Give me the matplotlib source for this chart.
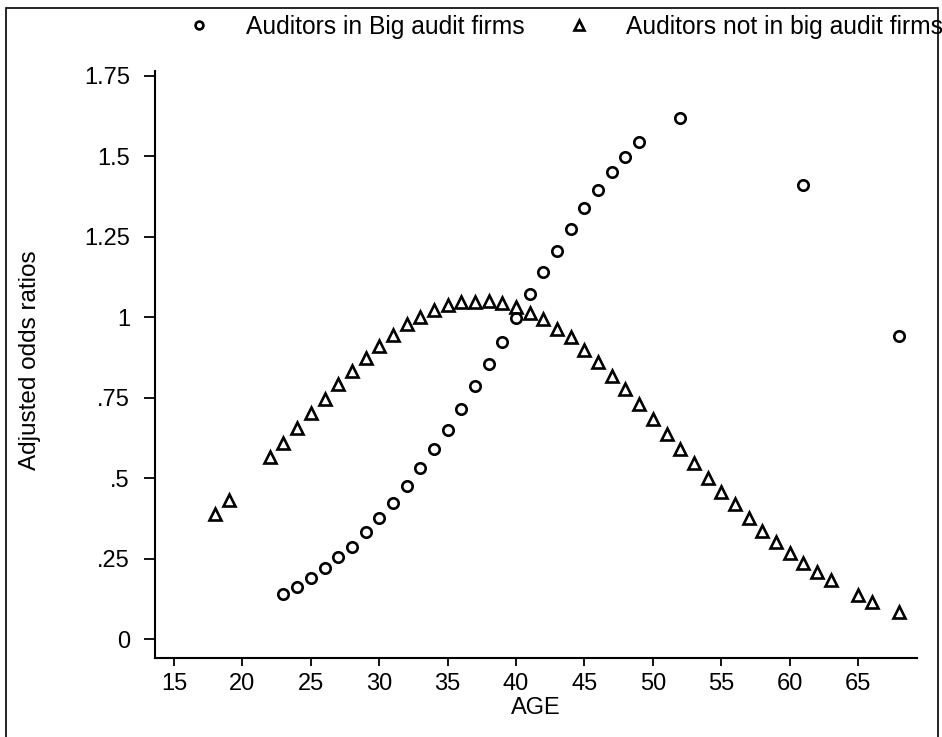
import matplotlib
matplotlib.use("Agg")
import matplotlib.pyplot as plt
from matplotlib.patches import Rectangle

plt.rcParams['font.family'] = ['Liberation Sans', 'DejaVu Sans']

# Auditors in Big audit firms (circles)
big_age = [23, 24, 25, 26, 27, 28, 29, 30, 31, 32, 33, 34, 35, 36, 37, 38,
           39, 40, 41, 42, 43, 44, 45, 46, 47, 48, 49, 52, 61, 68]
big_or = [0.141, 0.163, 0.190, 0.220, 0.254, 0.287, 0.331, 0.375, 0.422, 0.475,
          0.530, 0.589, 0.649, 0.715, 0.785, 0.853, 0.924, 0.997, 1.071, 1.141,
          1.206, 1.275, 1.338, 1.396, 1.452, 1.498, 1.543, 1.619, 1.411, 0.941]

# Auditors not in big audit firms (triangles)
nbig_age = [18, 19, 22, 23, 24, 25, 26, 27, 28, 29, 30, 31, 32, 33, 34, 35, 36,
            37, 38, 39, 40, 41, 42, 43, 44, 45, 46, 47, 48, 49, 50, 51, 52, 53,
            54, 55, 56, 57, 58, 59, 60, 61, 62, 63, 65, 66, 68]
nbig_or = [0.388, 0.432, 0.564, 0.610, 0.657, 0.703, 0.746, 0.793, 0.834, 0.874,
           0.909, 0.945, 0.978, 1.001, 1.022, 1.037, 1.048, 1.047, 1.050, 1.045,
           1.032, 1.014, 0.993, 0.964, 0.937, 0.899, 0.861, 0.818, 0.777, 0.730,
           0.683, 0.638, 0.590, 0.548, 0.501, 0.458, 0.418, 0.375, 0.336, 0.302,
           0.266, 0.235, 0.209, 0.183, 0.138, 0.116, 0.085]

xticks = [15, 20, 25, 30, 35, 40, 45, 50, 55, 60, 65]
yticks = [0, 0.25, 0.5, 0.75, 1, 1.25, 1.5, 1.75]
ytick_labels = ['0', '.25', '.5', '.75', '1', '1.25', '1.5', '1.75']

W, H = 942, 737
fig = plt.figure(figsize=(W / 100, H / 100), dpi=100)
ax = fig.add_axes([155 / W, 1 - 658 / H, (917 - 155) / W, (658 - 71) / H])

ax.plot(big_age, big_or, linestyle='none', marker='o', markersize=7.5,
        markerfacecolor='none', markeredgecolor='black', markeredgewidth=1.9,
        label='Auditors in Big audit firms')
ax.plot(nbig_age, nbig_or, linestyle='none', marker='^', markersize=9,
        markerfacecolor='none', markeredgecolor='black', markeredgewidth=1.9,
        label='Auditors not in big audit firms')

ax.set_xlim(13.61, 69.31)
ax.set_ylim(-0.059, 1.7645)
ax.set_xticks(xticks)
ax.set_xticklabels([str(t) for t in xticks])
ax.set_yticks(yticks)
ax.set_yticklabels(ytick_labels)

for s in ['top', 'right']:
    ax.spines[s].set_visible(False)
for s in ['left', 'bottom']:
    ax.spines[s].set_linewidth(1.5)
ax.tick_params(axis='x', direction='out', length=5.5, width=1.3, labelsize=17, pad=5)
ax.tick_params(axis='y', direction='out', length=8, width=1.3, labelsize=17, pad=10)

ax.set_xlabel('AGE', fontsize=17, labelpad=2)
fig.text(30 / W, 1 - 360 / H, 'Adjusted odds ratios', rotation=90,
         ha='center', va='center', fontsize=17.5)

fig.legend(loc='center left', bbox_to_anchor=(187 / W, 1 - 27 / H), ncol=2,
           frameon=False, fontsize=17.7, borderpad=0, borderaxespad=0,
           handlelength=1.0, handletextpad=1.4, columnspacing=1.72,
           markerscale=0.75)

fig.patches.append(Rectangle((6 / W, -0.01), (938 - 6) / W, 1 - 8 / H + 0.01,
                             transform=fig.transFigure, fill=False,
                             edgecolor='black', linewidth=1.2, zorder=0))

fig.savefig('out.png', dpi=100)
